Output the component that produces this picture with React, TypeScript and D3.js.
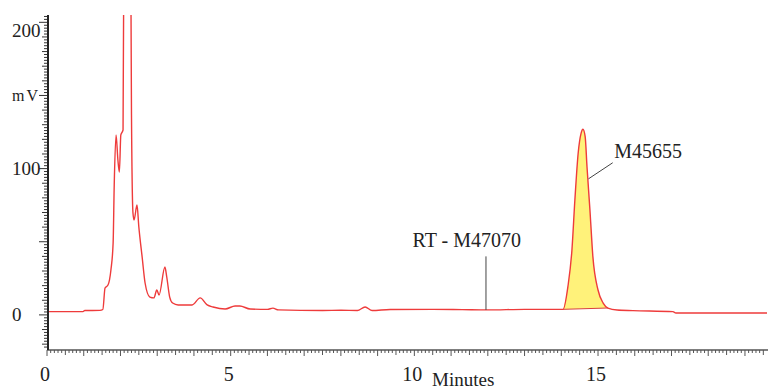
import React, { useEffect, useRef } from 'react';
import * as d3 from 'd3';

// chromatogram trace, minutes vs mV (main peak runs off scale)
const timeMin = [
  0, 0.98, 1.03, 1.44, 1.52, 1.58, 1.66, 1.74, 1.8, 1.83, 1.88, 1.93, 1.97, 2.01, 2.07,
  2.1, 2.18, 2.27, 2.3, 2.34, 2.37, 2.45, 2.5, 2.59, 2.67, 2.8, 2.91, 2.99, 3.05, 3.21,
  3.26, 3.34, 3.42, 3.57, 3.95, 4.17, 4.36, 4.52, 4.85, 5.12, 5.25, 5.53, 6.0, 6.15, 6.3,
  7.5, 8.0, 8.45, 8.66, 8.85, 9.34, 10.5, 11.3, 12.0, 13.0, 13.6, 14.05, 14.18, 14.29,
  14.37, 14.46, 14.54, 14.59, 14.65, 14.7, 14.78, 14.86, 15.0, 15.14, 15.27, 15.52, 15.95,
  17.04, 17.12, 19.6,
];
const signalMv = [
  2.2, 2.2, 3.0, 3.1, 3.7, 18.4, 20.4, 30.7, 49.1, 88.8, 123, 105.9, 97.7, 123, 126.4,
  300, 450, 300, 136.6, 69.7, 64.9, 75.1, 60.1, 39.6, 21.8, 12.2, 11.6, 17.0, 13.6, 32.7,
  25.9, 12.2, 8.1, 6.8, 6.8, 11.6, 6.8, 5.4, 4.0, 6.1, 6.1, 4.0, 3.8, 4.6, 3.4,
  3.0, 3.2, 3.0, 5.4, 3.0, 3.7, 3.8, 3.6, 3.4, 3.8, 3.8, 3.8, 19.3, 44.4,
  78.5, 110.7, 124.3, 126.9, 121.8, 101.3, 71.7, 39.8, 17.0, 8.1, 4.7, 3.3, 2.9,
  2.2, 1.3, 1.3,
];

const xTickValues = [0, 5, 10, 15];
const yTickValues = [0, 100, 200];

const peakNames = ['RT - M47070', 'M45655'];
const peakTimes = [11.95, 14.6];
const integStart = 14.05;
const integEnd = 15.27;

const W = 768;
const H = 390;

const Chromatogram: React.FC = () => {
  const svgRef = useRef<SVGSVGElement | null>(null);

  useEffect(() => {
    if (!svgRef.current) return;
    const svg = d3.select(svgRef.current);
    svg.selectAll('*').remove();

    const x = d3.scaleLinear().domain([0, 19.6]).range([47, 767]);
    const y = d3.scaleLinear().domain([-24, 205]).range([350, 15]);
    const font = '"Liberation Serif", "Times New Roman", serif';

    const pts = timeMin.map((t, i) => ({ t, v: signalMv[i] }));
    const valueAt = (t: number) => {
      const i = d3.bisector((d: { t: number }) => d.t).left(pts, t);
      if (i <= 0) return pts[0].v;
      if (i >= pts.length) return pts[pts.length - 1].v;
      const a = pts[i - 1], b = pts[i];
      return a.v + ((b.v - a.v) * (t - a.t)) / (b.t - a.t);
    };

    svg.append('defs').append('clipPath').attr('id', 'plot-clip')
      .append('rect')
      .attr('x', x(0) + 1).attr('y', y(205))
      .attr('width', x(19.6) - x(0)).attr('height', y(-24) - y(205));

    // integrated area under the main peak
    const b0 = valueAt(integStart);
    const b1 = valueAt(integEnd);
    const baseAt = (t: number) => b0 + ((b1 - b0) * (t - integStart)) / (integEnd - integStart);
    const areaPts = [
      { t: integStart, v: b0 },
      ...pts.filter(d => d.t > integStart && d.t < integEnd),
      { t: integEnd, v: b1 },
    ];
    svg.append('path')
      .datum(areaPts)
      .attr('clip-path', 'url(#plot-clip)')
      .attr('fill', '#fff27a')
      .attr('d', d3.area<{ t: number; v: number }>()
        .x(d => x(d.t))
        .y0(d => y(baseAt(d.t)))
        .y1(d => y(d.v))
        .curve(d3.curveMonotoneX));

    svg.append('line')
      .attr('x1', x(integStart)).attr('y1', y(b0))
      .attr('x2', x(integEnd)).attr('y2', y(b1))
      .attr('stroke', '#d84040').attr('stroke-width', 1);

    // trace
    svg.append('path')
      .datum(pts)
      .attr('clip-path', 'url(#plot-clip)')
      .attr('fill', 'none')
      .attr('stroke', '#ee3b3b')
      .attr('stroke-width', 1.4)
      .attr('d', d3.line<{ t: number; v: number }>()
        .x(d => x(d.t))
        .y(d => y(d.v))
        .curve(d3.curveMonotoneX));

    // x axis with minor ticks
    const gx = svg.append('g');
    gx.append('line')
      .attr('x1', x(0)).attr('x2', W).attr('y1', y(-24)).attr('y2', y(-24))
      .attr('stroke', '#555').attr('stroke-width', 1.4);
    d3.range(0, 196).forEach(i => {
      const len = i % 10 === 0 ? 6 : i % 5 === 0 ? 5 : 3;
      gx.append('line')
        .attr('x1', x(i / 10)).attr('x2', x(i / 10))
        .attr('y1', y(-24)).attr('y2', y(-24) + len)
        .attr('stroke', '#555').attr('stroke-width', 1);
    });
    xTickValues.forEach(v => {
      gx.append('text')
        .attr('x', x(v) - 2).attr('y', 381)
        .attr('text-anchor', 'middle')
        .attr('font-family', font).attr('font-size', 20)
        .attr('fill', '#222')
        .text(String(v));
    });
    gx.append('text')
      .attr('x', 432).attr('y', 386)
      .attr('font-family', font).attr('font-size', 19)
      .attr('fill', '#222')
      .text('Minutes');

    // y axis with minor ticks
    const gy = svg.append('g');
    gy.append('line')
      .attr('x1', x(0) + 1).attr('x2', x(0) + 1).attr('y1', y(205)).attr('y2', y(-24))
      .attr('stroke', '#222').attr('stroke-width', 2);
    d3.range(-22, 206, 2).forEach(v => {
      const len = v % 50 === 0 ? 8 : v % 10 === 0 ? 5 : 3;
      gy.append('line')
        .attr('x1', x(0)).attr('x2', x(0) - len)
        .attr('y1', y(v)).attr('y2', y(v))
        .attr('stroke', '#333').attr('stroke-width', 1);
    });
    yTickValues.forEach(v => {
      gy.append('text')
        .attr('x', 12).attr('y', Math.max(y(v), 31) + 2)
        .attr('dominant-baseline', 'middle')
        .attr('font-family', font).attr('font-size', 19)
        .attr('fill', '#222')
        .text(String(v));
    });
    gy.append('text')
      .attr('x', 12).attr('y', 97)
      .attr('dominant-baseline', 'middle')
      .attr('font-family', font).attr('font-size', 16)
      .attr('letter-spacing', 2)
      .attr('fill', '#222')
      .text('mV');

    // peak annotations
    const rt = peakTimes[0];
    svg.append('line')
      .attr('x1', x(rt)).attr('x2', x(rt))
      .attr('y1', y(valueAt(rt))).attr('y2', y(40))
      .attr('stroke', '#444').attr('stroke-width', 1);
    svg.append('text')
      .attr('x', x(rt) + 35).attr('y', y(46.5))
      .attr('text-anchor', 'end')
      .attr('font-family', font).attr('font-size', 20)
      .attr('fill', '#222')
      .text(peakNames[0]);

    const pk = peakTimes[1];
    svg.append('line')
      .attr('x1', x(pk + 0.14)).attr('y1', y(93))
      .attr('x2', x(pk + 0.8)).attr('y2', y(104))
      .attr('stroke', '#444').attr('stroke-width', 1);
    svg.append('text')
      .attr('x', x(pk + 0.84)).attr('y', y(107.5))
      .attr('font-family', font).attr('font-size', 20)
      .attr('fill', '#222')
      .text(peakNames[1]);
  }, []);

  return (
    <svg
      ref={svgRef}
      width={W}
      height={H}
      style={{ position: 'absolute', left: 0, top: 0, background: '#fff' }}
    />
  );
};

export default function App() {
  return <Chromatogram />;
}
